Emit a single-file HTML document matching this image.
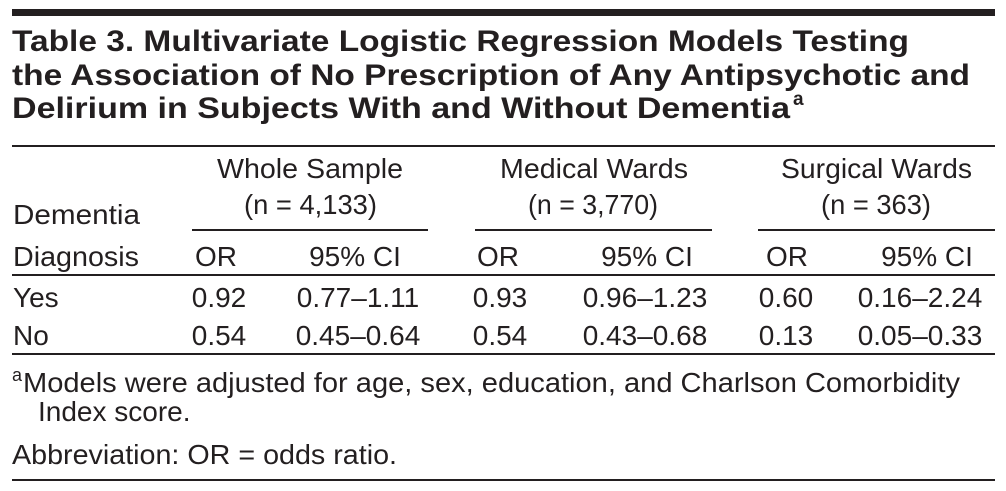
<!DOCTYPE html>
<html>
<head>
<meta charset="utf-8">
<style>
  html, body { margin: 0; padding: 0; background: #ffffff; }
  body { width: 1006px; height: 491px; overflow: hidden; }
  svg { display: block; }
  text { font-family: "Liberation Sans", "DejaVu Sans", sans-serif; fill: #231f20; }
  .t { font-weight: bold; font-size: 30px; }
  .b { font-size: 28px; }
</style>
</head>
<body>
<svg width="1006" height="491" viewBox="0 0 1006 491" xmlns="http://www.w3.org/2000/svg">
  <!-- top bar -->
  <rect x="12" y="9" width="983" height="7" fill="#231f20"/>

  <!-- title -->
  <text class="t" x="12" y="51" textLength="897" lengthAdjust="spacingAndGlyphs">Table 3. Multivariate Logistic Regression Models Testing</text>
  <text class="t" x="12" y="85" textLength="958" lengthAdjust="spacingAndGlyphs">the Association of No Prescription of Any Antipsychotic and</text>
  <text class="t" x="12" y="118" textLength="778" lengthAdjust="spacingAndGlyphs">Delirium in Subjects With and Without Dementia</text>
  <text x="793" y="105" font-size="19" font-weight="bold">a</text>

  <!-- title rule -->
  <rect x="12" y="145" width="983" height="2" fill="#231f20"/>

  <!-- group headers -->
  <text class="b" x="217" y="178" textLength="186" lengthAdjust="spacingAndGlyphs">Whole Sample</text>
  <text class="b" x="500" y="178" textLength="188" lengthAdjust="spacingAndGlyphs">Medical Wards</text>
  <text class="b" x="781" y="178" textLength="191" lengthAdjust="spacingAndGlyphs">Surgical Wards</text>

  <text class="b" x="244" y="214" textLength="133" lengthAdjust="spacingAndGlyphs">(n = 4,133)</text>
  <text class="b" x="528" y="214" textLength="130" lengthAdjust="spacingAndGlyphs">(n = 3,770)</text>
  <text class="b" x="821" y="214" textLength="110" lengthAdjust="spacingAndGlyphs">(n = 363)</text>

  <text class="b" x="13" y="224" textLength="127" lengthAdjust="spacingAndGlyphs">Dementia</text>

  <!-- group underlines -->
  <rect x="192" y="229" width="236" height="2" fill="#231f20"/>
  <rect x="475" y="229" width="237" height="2" fill="#231f20"/>
  <rect x="758" y="229" width="237" height="2" fill="#231f20"/>

  <!-- sub headers -->
  <text class="b" x="13" y="266" textLength="126" lengthAdjust="spacingAndGlyphs">Diagnosis</text>
  <text class="b" x="216" y="266" text-anchor="middle">OR</text>
  <text class="b" x="355" y="266" text-anchor="middle">95% CI</text>
  <text class="b" x="498" y="266" text-anchor="middle">OR</text>
  <text class="b" x="647" y="266" text-anchor="middle">95% CI</text>
  <text class="b" x="787" y="266" text-anchor="middle">OR</text>
  <text class="b" x="927" y="266" text-anchor="middle">95% CI</text>

  <!-- header rule -->
  <rect x="12" y="274" width="983" height="2" fill="#231f20"/>

  <!-- rows -->
  <text class="b" x="13" y="307">Yes</text>
  <text class="b" x="219" y="307" text-anchor="middle">0.92</text>
  <text class="b" x="358" y="307" text-anchor="middle">0.77–1.11</text>
  <text class="b" x="500" y="307" text-anchor="middle">0.93</text>
  <text class="b" x="645" y="307" text-anchor="middle">0.96–1.23</text>
  <text class="b" x="786" y="307" text-anchor="middle">0.60</text>
  <text class="b" x="920" y="307" text-anchor="middle">0.16–2.24</text>

  <text class="b" x="13" y="345">No</text>
  <text class="b" x="219" y="345" text-anchor="middle">0.54</text>
  <text class="b" x="358" y="345" text-anchor="middle">0.45–0.64</text>
  <text class="b" x="500" y="345" text-anchor="middle">0.54</text>
  <text class="b" x="645" y="345" text-anchor="middle">0.43–0.68</text>
  <text class="b" x="786" y="345" text-anchor="middle">0.13</text>
  <text class="b" x="920" y="345" text-anchor="middle">0.05–0.33</text>

  <!-- table bottom rule -->
  <rect x="12" y="353" width="983" height="2" fill="#231f20"/>

  <!-- footnotes -->
  <text x="12" y="381" font-size="18">a</text>
  <text class="b" x="23" y="392" textLength="937" lengthAdjust="spacingAndGlyphs">Models were adjusted for age, sex, education, and Charlson Comorbidity</text>
  <text class="b" x="38" y="421">Index score.</text>
  <text class="b" x="12" y="464" textLength="385" lengthAdjust="spacingAndGlyphs">Abbreviation: OR = odds ratio.</text>

  <!-- bottom rule -->
  <rect x="12" y="479" width="983" height="2" fill="#231f20"/>
</svg>
</body>
</html>
